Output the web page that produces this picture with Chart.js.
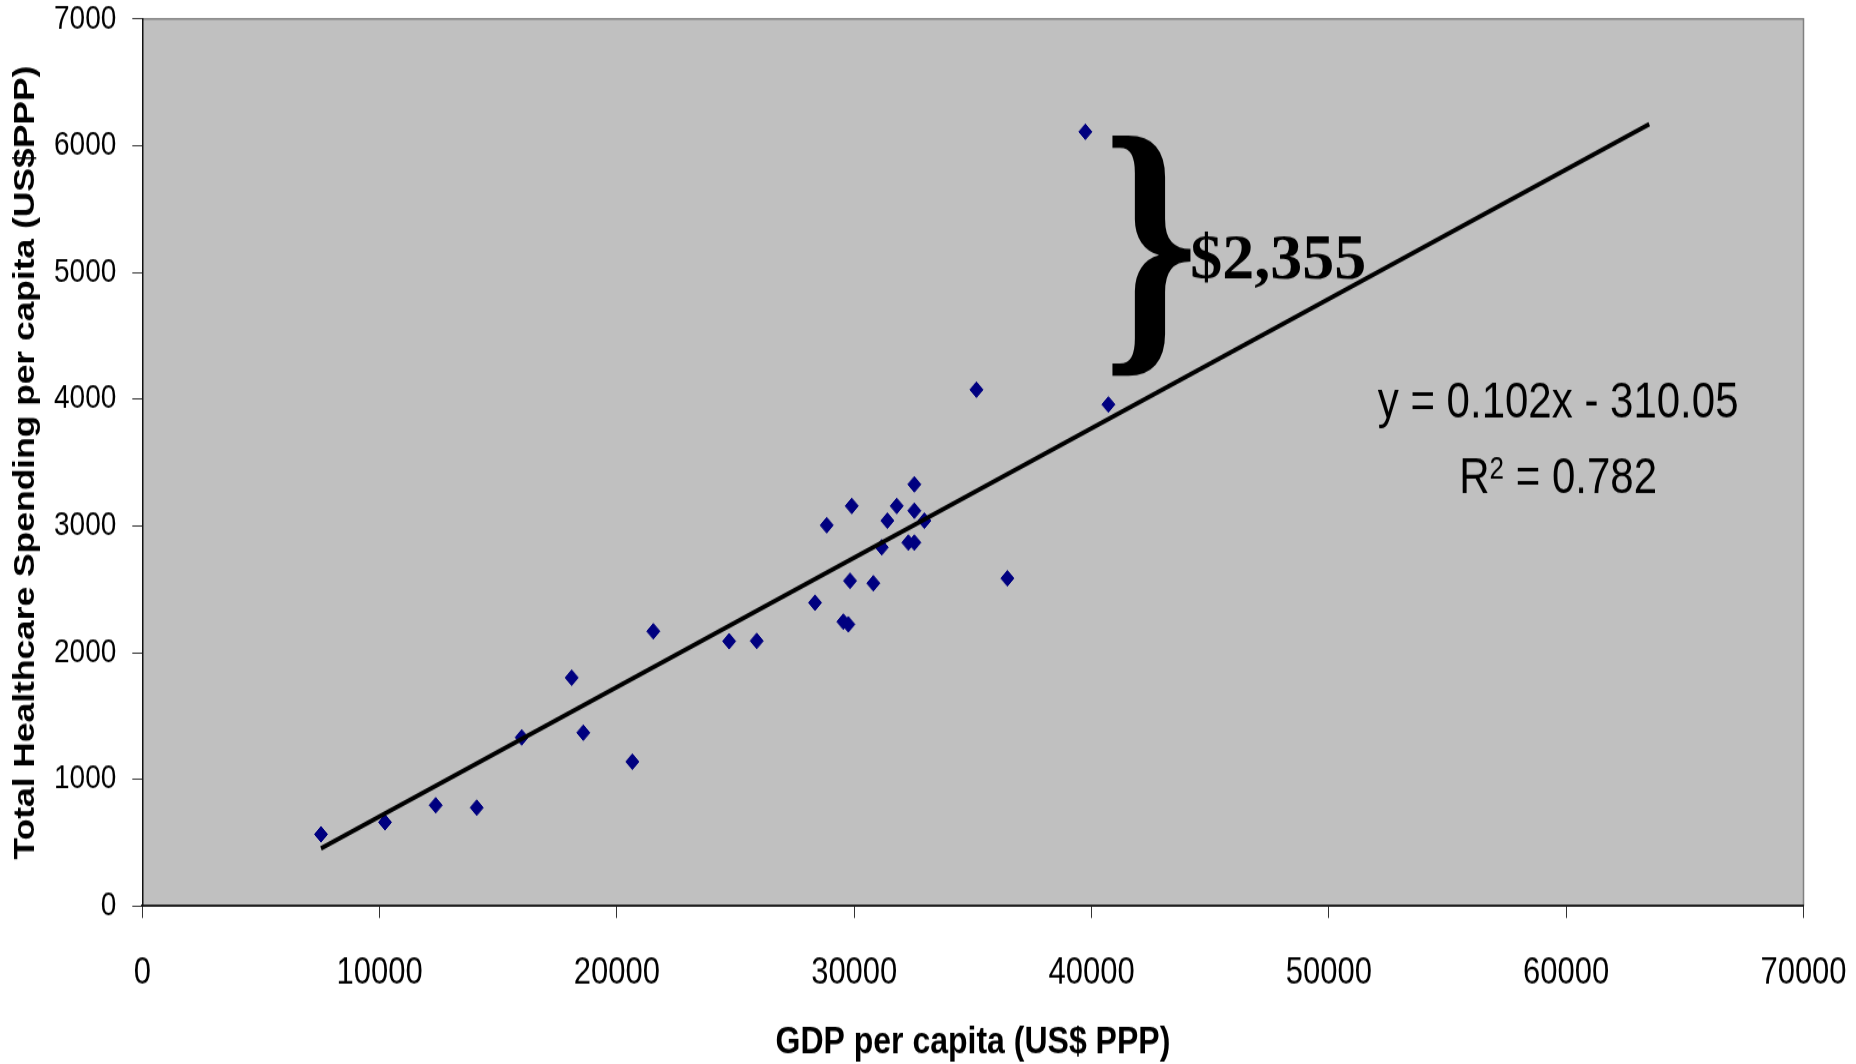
<!DOCTYPE html>
<html>
<head>
<meta charset="utf-8">
<title>GDP vs Healthcare Spending</title>
<script src="https://cdn.jsdelivr.net/npm/chart.js@4.4.1/dist/chart.umd.min.js"></script>
<style>
    html, body { margin: 0; padding: 0; background: #fff; overflow: hidden; }
    /* the original picture is stretched vertically, so the chart is drawn flat and scaled up */
    #wrap { position: absolute; left: 0; top: 0; width: 1856px; height: 887px; transform-origin: 0 0; transform: scaleY(1.19955); }
</style>
</head>
<body>
<div id="wrap"><canvas id="healthChart"></canvas></div>
<script>
// data
const gdpPerCapita = [7531, 10228, 12364, 14092, 15988, 18095, 18584, 20649, 21534, 24730,
    25891, 28348, 28841, 29541, 29752, 29823, 29895, 30805, 31159, 31395,
    31791, 32280, 32533, 32533, 32533, 32954, 35150, 36452, 39740, 40710];
const healthSpending = [566, 661, 795, 776, 1331, 1802, 1368, 1139, 2168, 2090,
    2092, 2394, 3005, 2244, 2223, 2567, 3157, 2547, 2831, 3041,
    3157, 2868, 2868, 3328, 3120, 3041, 4075, 2586, 6110, 3958];

// trend line ends (as drawn in the picture)
const trendX = [7530, 63500];
const trendY = [455, 6170];

const xTicks = [0, 10000, 20000, 30000, 40000, 50000, 60000, 70000];
const yTicks = [0, 1000, 2000, 3000, 4000, 5000, 6000, 7000];

const equationText = ['y = 0.102x - 310.05', ' = 0.782'];
const gapLabel = '$2,355';

const STRETCH = 1064 / 887;
const sans = '"Liberation Sans", Arial, sans-serif';
const serif = '"Liberation Serif", "Times New Roman", serif';

// grey plot background + grey top/right border
const plotBackground = {
    id: 'plotBackground',
    beforeDraw(chart) {
        const { ctx, chartArea: a } = chart;
        ctx.save();
        ctx.fillStyle = '#c0c0c0';
        ctx.fillRect(a.left, a.top, a.width, a.height);
        ctx.strokeStyle = '#808080';
        ctx.lineWidth = 1.5;
        ctx.beginPath();
        ctx.moveTo(a.left, a.top);
        ctx.lineTo(a.right, a.top);
        ctx.lineTo(a.right, a.bottom);
        ctx.stroke();
        ctx.restore();
    }
};

// brace, $2,355 and regression equation
const annotations = {
    id: 'annotations',
    afterDatasetsDraw(chart) {
        const ctx = chart.ctx;
        const xs = chart.scales.x;
        const ys = chart.scales.y;
        ctx.save();
        ctx.fillStyle = '#000';

        // brace glyph fitted into its box
        const bx0 = xs.getPixelForValue(40800), bx1 = xs.getPixelForValue(44300);
        const by0 = ys.getPixelForValue(6100), by1 = ys.getPixelForValue(4170);
        ctx.font = 'bold 300px ' + serif;
        const m = ctx.measureText('}');
        const gw = m.actualBoundingBoxLeft + m.actualBoundingBoxRight;
        const gh = m.actualBoundingBoxAscent + m.actualBoundingBoxDescent;
        ctx.save();
        ctx.translate(bx0, by0);
        ctx.scale((bx1 - bx0) / gw, (by1 - by0) / gh);
        ctx.textAlign = 'left';
        ctx.textBaseline = 'alphabetic';
        ctx.fillText('}', m.actualBoundingBoxLeft, m.actualBoundingBoxAscent);
        ctx.restore();

        // $2,355 is not stretched in the original, so undo the stretch
        ctx.save();
        ctx.translate(xs.getPixelForValue(44160), ys.getPixelForValue(4957));
        ctx.scale(1, 1 / STRETCH);
        ctx.font = 'bold 64px ' + serif;
        ctx.textAlign = 'left';
        ctx.textBaseline = 'alphabetic';
        ctx.fillText(gapLabel, 0, 0);
        ctx.restore();

        // equation
        const cx = xs.getPixelForValue(59660);
        ctx.font = '42px ' + sans;
        ctx.textBaseline = 'alphabetic';
        ctx.textAlign = 'center';
        ctx.fillText(equationText[0], cx, ys.getPixelForValue(3852));

        // R² line
        ctx.textAlign = 'left';
        const base2 = ys.getPixelForValue(3262);
        const wR = ctx.measureText('R').width;
        const wRest = ctx.measureText(equationText[1]).width;
        ctx.font = '26px ' + sans;
        const wSup = ctx.measureText('2').width;
        let x = cx - (wR + wSup + wRest) / 2;
        ctx.font = '42px ' + sans;
        ctx.fillText('R', x, base2);
        x += wR;
        ctx.font = '26px ' + sans;
        ctx.fillText('2', x, base2 - 11.5);
        x += wSup;
        ctx.font = '42px ' + sans;
        ctx.fillText(equationText[1], x, base2);

        ctx.restore();
    }
};

function buildPoints(xs, ys) {
    return xs.map((v, i) => ({ x: v, y: ys[i] }));
}

const ctx = document.getElementById('healthChart').getContext('2d');
new Chart(ctx, {
    type: 'scatter',
    data: {
        datasets: [
            {
                label: 'Trend',
                data: buildPoints(trendX, trendY),
                showLine: true,
                borderColor: '#000',
                borderWidth: 3.8,
                pointRadius: 0,
                order: 0
            },
            {
                label: 'Countries',
                data: buildPoints(gdpPerCapita, healthSpending),
                pointStyle: 'rectRot',
                pointRadius: 6.5,
                backgroundColor: '#000080',
                borderColor: '#000080',
                borderWidth: 1,
                order: 1
            }
        ]
    },
    options: {
        responsive: true,
        maintainAspectRatio: false,
        animation: false,
        events: [],
        layout: { padding: { top: 15.84, right: 52.5, bottom: 0, left: 0 } },
        plugins: {
            legend: { display: false },
            tooltip: { enabled: false }
        },
        scales: {
            x: {
                type: 'linear',
                min: xTicks[0],
                max: xTicks[xTicks.length - 1],
                afterBuildTicks: (scale) => { scale.ticks = xTicks.map(v => ({ value: v })); },
                afterFit: (scale) => {
                    scale.height = 131.7;
                    scale.paddingLeft = 0;
                    scale.paddingRight = 0;
                },
                border: { color: '#222', width: 2 },
                grid: { drawOnChartArea: false, drawTicks: true, tickLength: 10, tickColor: '#333', tickWidth: 1 },
                ticks: {
                    autoSkip: false,
                    maxRotation: 0,
                    padding: 31,
                    color: '#000',
                    font: { family: sans, size: 31, lineHeight: 1 },
                    callback: (v) => String(v)
                },
                title: {
                    display: true,
                    text: 'GDP per capita (US$ PPP)',
                    color: '#000',
                    font: { family: sans, size: 32, weight: 'bold', lineHeight: 1 },
                    padding: { top: 0, bottom: 2 }
                }
            },
            y: {
                type: 'linear',
                min: yTicks[0],
                max: yTicks[yTicks.length - 1],
                afterBuildTicks: (scale) => { scale.ticks = yTicks.map(v => ({ value: v })); },
                afterFit: (scale) => {
                    scale.width = 142.3;
                    scale.paddingTop = 0;
                    scale.paddingBottom = 0;
                },
                border: { color: '#111', width: 1.5 },
                grid: { drawOnChartArea: false, drawTicks: true, tickLength: 10, tickColor: '#333', tickWidth: 1 },
                ticks: {
                    autoSkip: false,
                    padding: 16,
                    color: '#000',
                    font: { family: sans, size: 28, lineHeight: 1 },
                    callback: (v) => String(v)
                },
                title: {
                    display: true,
                    text: 'Total Healthcare Spending per capita (US$PPP)',
                    color: '#000',
                    font: { family: sans, size: 29.5, weight: 'bold', lineHeight: 1.2 },
                    padding: { top: 8, bottom: 0 }
                }
            }
        }
    },
    plugins: [plotBackground, annotations]
});
</script>
</body>
</html>
